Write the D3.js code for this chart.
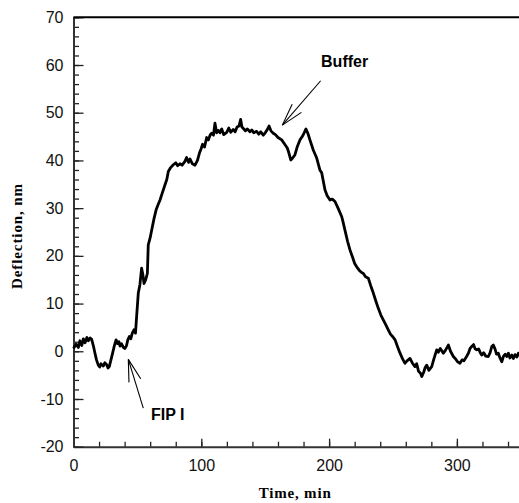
<!DOCTYPE html>
<html>
<head>
<meta charset="UTF-8">
<title>Deflection vs Time</title>
<script src="https://cdn.jsdelivr.net/npm/d3@7"></script>
<style>
body { margin: 0; background: #fff; }
.tick text { font-family: "Liberation Sans", Arial, sans-serif; font-size: 16px; fill: #111; }
</style>
</head>
<body>
<svg class="chart" width="519" height="503"></svg>
<script>
// time (min) and deflection (nm)
var timeMin = [0, 2, 3.8, 5, 6.5, 7.7, 9, 10.5, 11.6, 13, 14.2, 15.5, 16.8, 18, 19.4, 20.5, 21.5, 23.3, 24.5, 26, 27, 28, 29.3, 30.6, 32, 33.3, 34.5, 35.5, 36.4, 37.5, 39, 40.3, 41.5, 42.5, 43.7, 44.8, 46, 47.3, 48.5, 49.4, 50.7, 52, 53.3, 54.2, 55.2, 56.5, 57.8, 58.5, 60, 61.2, 63, 64.6, 66, 67.7, 69.5, 71.6, 73, 74.2, 76, 78.1, 80, 81.5, 83.3, 85, 87.2, 88.5, 90, 91.2, 93, 95.1, 97, 98.5, 99.8, 101, 102.5, 104.2, 105.5, 107, 108.1, 109.5, 110.7, 112, 113.3, 114.6, 116, 117.5, 119.9, 121.5, 123, 125, 126.5, 128, 129.5, 130.8, 131.8, 132.9, 134.5, 136, 138.1, 139.5, 141, 143.3, 145, 146.5, 148.5, 150, 151.5, 153, 154.5, 156.3, 158, 160, 162.9, 165, 167.3, 168.5, 170, 171.5, 173.3, 175, 177.2, 179, 180.5, 181.9, 183.5, 185, 187.6, 190.3, 192.8, 194.2, 196.8, 198.5, 200.7, 202.5, 204.6, 207, 209.9, 211, 212.4, 214.5, 216.4, 218.5, 220, 221.6, 223.5, 225, 226.8, 228.5, 230.7, 232.5, 234.6, 236.5, 238.5, 240.5, 242.4, 244.5, 246.3, 248, 250, 251.6, 253.5, 255.5, 257.5, 259.4, 261, 263.3, 265, 267.2, 268.5, 270, 271.5, 272.5, 274, 275.2, 276.4, 278, 280.3, 282, 284.2, 285.5, 287, 289.4, 291, 293.3, 295, 297.2, 299, 300.5, 302.4, 304, 305.5, 307.6, 309, 310.3, 311.6, 313, 314.3, 315.5, 317, 318.3, 319.4, 321, 322.5, 324.6, 326, 327.3, 328.5, 329.8, 331, 332.4, 333.7, 335.1, 336.5, 337.8, 339, 340.3, 341.5, 343, 344.2, 345.5, 347, 348.1, 350];
var deflection = [0.6, 1.5, 0.8, 2.2, 1.2, 2.6, 1.8, 2.9, 2.2, 2.8, 2.5, 1.2, -0.4, -1.8, -2.9, -3.3, -2.6, -3.1, -2.4, -2.8, -3.5, -3.2, -1.8, -0.4, 1.2, 2.4, 1.6, 2.0, 1.1, 1.6, 0.8, 0.6, 1.2, 2.4, 3.1, 2.6, 3.8, 4.5, 3.8, 7.3, 12.2, 14.0, 17.4, 16.2, 14.2, 15.0, 16.3, 22.3, 23.8, 25.4, 27.8, 29.6, 30.6, 31.7, 33.2, 34.9, 36.0, 37.7, 38.5, 39.1, 39.5, 38.9, 39.3, 39.0, 39.8, 40.6, 39.6, 40.3, 39.3, 39.0, 40.0, 41.5, 42.4, 43.4, 42.8, 44.8, 44.3, 45.4, 45.7, 45.3, 47.8, 45.8, 46.3, 45.8, 46.6, 45.4, 45.9, 46.8, 45.9, 46.5, 46.0, 47.0, 47.2, 48.6, 47.0, 46.7, 46.2, 46.6, 46.0, 46.4, 45.8, 46.1, 45.5, 46.0, 45.3, 45.8, 46.4, 47.2, 46.2, 45.7, 45.4, 44.8, 44.3, 43.5, 42.6, 41.6, 40.1, 40.5, 41.2, 42.8, 44.3, 45.0, 45.8, 46.6, 45.6, 44.3, 42.2, 40.5, 38.0, 37.4, 33.8, 32.6, 31.7, 31.9, 31.4, 30.0, 28.2, 27.0, 25.4, 23.0, 21.2, 19.6, 18.4, 17.7, 17.0, 16.6, 16.3, 15.6, 15.3, 13.8, 12.2, 10.6, 9.0, 7.6, 6.6, 5.5, 4.5, 3.6, 3.0, 2.4, 1.0, -0.4, -1.6, -2.5, -2.0, -1.5, -2.4, -3.2, -2.6, -4.2, -4.6, -5.3, -4.4, -3.4, -2.9, -4.0, -3.2, -1.6, 0.3, -0.2, 0.6, -0.4, 0.2, 1.3, 0.0, -1.1, -1.6, -2.2, -2.5, -1.8, -2.0, -1.1, -0.4, 0.6, 1.0, 1.4, 0.5, 0.3, 0.5, -0.3, -0.8, -0.3, -1.0, -1.1, -0.3, 1.0, 1.3, 0.5, -0.6, -0.4, -1.4, -2.2, -1.0, -0.6, -1.1, -0.4, -1.4, -0.8, -1.5, -0.7, -1.2, -0.4, -0.9];

var xTicks = [0, 100, 200, 300];
var yTicks = [-20, -10, 0, 10, 20, 30, 40, 50, 60, 70];

// annotations: text position and arrow [tail, tip] in data units
var notes = [
  {label: "Buffer", tx: 193.7, ty: 59.5, from: [193.4, 56.7], to: [163.4, 47.4]},
  {label: "FIP I", tx: 60.6, ty: -14.4, from: [54.6, -11.9], to: [42.9, -1.7]}
];

var svg = d3.select(".chart");
var plotLeft = 73.5, plotTop = 17.3, plotBottom = 446.7;
var plotRight = plotLeft + 350 * 1.278;

var x = d3.scaleLinear().domain([0, 350]).range([plotLeft, plotRight]);
var y = d3.scaleLinear().domain([-20, 70]).range([plotBottom, plotTop]);

// plain hyphen for negatives, like the original
var fmt = function(d){ return String(d); };

// minor ticks first (inward)
svg.append("g")
  .attr("transform", "translate(0," + plotBottom + ")")
  .call(d3.axisBottom(x).tickValues(d3.range(0, 351, 20)).tickSize(-5).tickFormat(""))
  .call(function(g){ g.select(".domain").remove(); })
  .selectAll("line").attr("stroke", "#222").attr("stroke-width", 1.3);

svg.append("g")
  .attr("transform", "translate(" + plotLeft + ",0)")
  .call(d3.axisLeft(y).tickValues(d3.range(-20, 71, 2)).tickSize(-5.5).tickFormat(""))
  .call(function(g){ g.select(".domain").remove(); })
  .selectAll("line").attr("stroke", "#222").attr("stroke-width", 1.3);

// major ticks + labels
var xAx = svg.append("g")
  .attr("transform", "translate(0," + plotBottom + ")")
  .call(d3.axisBottom(x).tickValues(xTicks).tickSize(-8).tickPadding(13).tickSizeOuter(0).tickFormat(fmt));
xAx.selectAll("line").attr("stroke", "#222").attr("stroke-width", 1.3);
xAx.select(".domain").attr("stroke", "#333").attr("stroke-width", 2);
xAx.selectAll("text").attr("dy", "0.71em");

var yAx = svg.append("g")
  .attr("transform", "translate(" + plotLeft + ",0)")
  .call(d3.axisLeft(y).tickValues(yTicks).tickSize(-10).tickPadding(10).tickSizeOuter(0).tickFormat(fmt));
yAx.selectAll("line").attr("stroke", "#222").attr("stroke-width", 1.3);
yAx.select(".domain").attr("stroke", "#333").attr("stroke-width", 2);

// top frame
svg.append("line")
  .attr("x1", plotLeft).attr("x2", plotRight)
  .attr("y1", plotTop).attr("y2", plotTop)
  .attr("stroke", "#000").attr("stroke-width", 2);

// the trace
var line = d3.line()
  .x(function(d, i){ return x(timeMin[i]); })
  .y(function(d){ return y(d); });

svg.append("path")
  .datum(deflection)
  .attr("d", line)
  .attr("fill", "none")
  .attr("stroke", "#000")
  .attr("stroke-width", 2.8)
  .attr("stroke-linejoin", "round");

// arrows with open heads
notes.forEach(function(n){
  var x1 = x(n.from[0]), y1 = y(n.from[1]);
  var x2 = x(n.to[0]), y2 = y(n.to[1]);
  var ang = Math.atan2(y1 - y2, x1 - x2);
  var len = 23, spread = 0.27;
  svg.append("line")
    .attr("x1", x1).attr("y1", y1).attr("x2", x2).attr("y2", y2)
    .attr("stroke", "#000").attr("stroke-width", 1.1);
  [-spread, spread].forEach(function(s){
    svg.append("line")
      .attr("x1", x2).attr("y1", y2)
      .attr("x2", x2 + len * Math.cos(ang + s))
      .attr("y2", y2 + len * Math.sin(ang + s))
      .attr("stroke", "#000").attr("stroke-width", 1.1);
  });
  svg.append("text")
    .attr("x", x(n.tx)).attr("y", y(n.ty))
    .attr("font-family", "Liberation Sans, Arial, sans-serif")
    .attr("font-weight", "bold")
    .attr("font-size", 16)
    .text(n.label);
});

// axis titles
svg.append("text")
  .attr("x", (plotLeft + plotRight) / 2 - 2).attr("y", 498)
  .attr("text-anchor", "middle")
  .attr("font-family", "Liberation Serif, Times New Roman, serif")
  .attr("font-weight", "bold").attr("font-size", 15)
  .attr("letter-spacing", 0.8)
  .text("Time, min");

svg.append("text")
  .attr("transform", "translate(22," + ((plotTop + plotBottom) / 2 + 4) + ") rotate(-90)")
  .attr("text-anchor", "middle")
  .attr("font-family", "Liberation Serif, Times New Roman, serif")
  .attr("font-weight", "bold").attr("font-size", 15)
  .attr("letter-spacing", 0.9)
  .text("Deflection, nm");
</script>
</body>
</html>
